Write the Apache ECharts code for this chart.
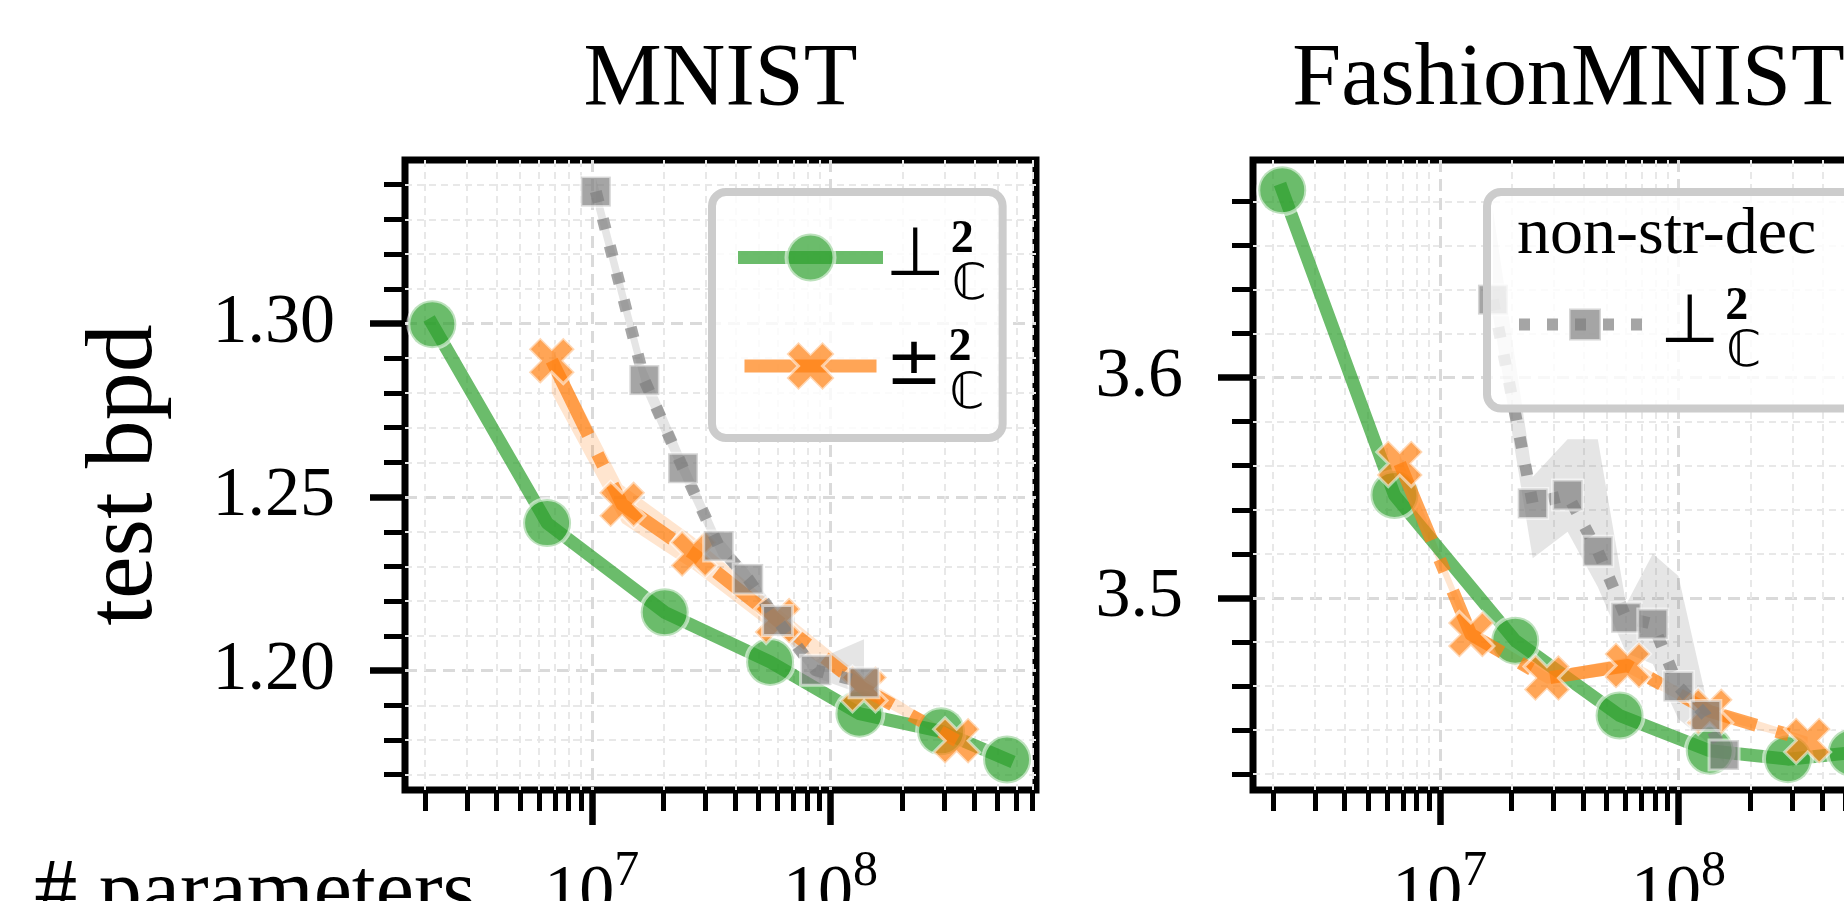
<!DOCTYPE html>
<html><head><meta charset="utf-8">
<script src="https://cdn.jsdelivr.net/npm/echarts@6/dist/echarts.min.js"></script>
<style>html,body{margin:0;padding:0;background:#fff}#c{width:1844px;height:901px}</style>
</head><body><div id="c"></div>
<script>
// ---------------- data ----------------
const panelTitles = ['MNIST', 'FashionMNIST'];
const seriesNames = ['⊥²ℂ', '±²ℂ', 'non-str-dec ⊥²ℂ'];

const xMajorTicks = [1e7, 1e8];
const xMinorTicks = [2e6, 3e6, 4e6, 5e6, 6e6, 7e6, 8e6, 9e6, 2e7, 3e7, 4e7, 5e7, 6e7, 7e7, 8e7, 9e7, 2e8, 3e8, 4e8, 5e8, 6e8, 7e8];

const mnistYMajor = [1.20, 1.25, 1.30];
const mnistYMinor = [1.17, 1.18, 1.19, 1.21, 1.22, 1.23, 1.24, 1.26, 1.27, 1.28, 1.29, 1.31, 1.32, 1.33, 1.34];
const fmnistYMajor = [3.5, 3.6];
const fmnistYMinor = [3.42, 3.44, 3.46, 3.48, 3.52, 3.54, 3.56, 3.58, 3.62, 3.64, 3.66, 3.68];

// MNIST
const mnistPerpParams = [2.15e6, 6.5e6, 2.02e7, 5.58e7, 1.32e8, 2.9e8, 5.48e8];
const mnistPerpBpd    = [1.2998, 1.2425, 1.2168, 1.2025, 1.1876, 1.1825, 1.1744];
const mnistPmParams   = [6.8e6, 1.34e7, 2.67e7, 6.0e7, 1.38e8, 3.37e8];
const mnistPmBpd      = [1.2893, 1.2479, 1.2336, 1.2144, 1.1947, 1.1798];
const mnistPmLow      = [1.2800, 1.2425, 1.2290, 1.2105, 1.1930, 1.1788];
const mnistPmHigh     = [1.2930, 1.2535, 1.2385, 1.2180, 1.1978, 1.1810];
const mnistNsdParams  = [1.04e7, 1.66e7, 2.41e7, 3.4e7, 4.52e7, 6.0e7, 8.65e7, 1.38e8];
const mnistNsdBpd     = [1.3380, 1.2837, 1.2583, 1.2359, 1.2264, 1.2144, 1.2001, 1.1965];
const mnistNsdLow     = [1.3330, 1.2800, 1.2550, 1.2330, 1.2240, 1.2120, 1.1980, 1.1930];
const mnistNsdHigh    = [1.3420, 1.2880, 1.2620, 1.2390, 1.2290, 1.2170, 1.2030, 1.2090];

// FashionMNIST
const fmnistPerpParams = [2.19e6, 6.46e6, 2.07e7, 5.66e7, 1.35e8, 2.87e8, 5.3e8];
const fmnistPerpBpd    = [3.6851, 3.5467, 3.4806, 3.4466, 3.4306, 3.4268, 3.4297];
const fmnistPmParams   = [6.8e6, 1.35e7, 2.81e7, 6.11e7, 1.35e8, 3.47e8];
const fmnistPmBpd      = [3.5610, 3.4834, 3.4636, 3.4693, 3.4485, 3.4353];
const fmnistPmLow      = [3.5570, 3.4800, 3.4610, 3.4660, 3.4460, 3.4340];
const fmnistPmHigh     = [3.5650, 3.4870, 3.4660, 3.4730, 3.4510, 3.4370];
const fmnistNsdParams  = [1.67e7, 2.45e7, 3.43e7, 4.59e7, 6.03e7, 7.8e7, 9.98e7, 1.30e8, 1.55e8];
const fmnistNsdBpd     = [3.6354, 3.5429, 3.5467, 3.5212, 3.4910, 3.4882, 3.4598, 3.4466, 3.4287];
const fmnistNsdLow     = [3.6280, 3.5180, 3.5300, 3.5050, 3.4750, 3.4700, 3.4450, 3.4350, 3.4250];
const fmnistNsdHigh    = [3.6760, 3.5550, 3.5720, 3.5720, 3.4970, 3.5200, 3.5100, 3.4550, 3.4330];

// ---------------- styling ----------------
const FONT = '"Liberation Serif", "DejaVu Serif", serif';
const SYM = '"DejaVu Sans", "Noto Sans", sans-serif';
const GREEN = '#2ca02c', ORANGE = '#ff7f0e', GRAY = '#7f7f7f';
const X_PATH = 'path://M2.5,0 L5,2.5 L7.5,0 L10,2.5 L7.5,5 L10,7.5 L7.5,10 L5,7.5 L2.5,10 L0,7.5 L2.5,5 L0,2.5 Z';

const GRID_W = 631, GRID_H = 630, GRID_TOP = 160;
const gridLefts = [405, 1253];
const xLogMin = 6.218, xLogMax = 8.86;
const yRanges = [[1.1656, 1.3471], [3.4128, 3.6988]];
const yMajors = [mnistYMajor, fmnistYMajor];
const yMinors = [mnistYMinor, fmnistYMinor];
const yDigits = [2, 1];

const lg = v => Math.log10(v);
const majorGrid = {show: true, lineStyle: {color: '#dadada', width: 3, type: [12, 7]}};
const minorGrid = {show: true, lineStyle: {color: '#e8e8e8', width: 2, type: [7, 5]}};

const xAxes = [], yAxes = [], grids = [];
for (let g = 0; g < 2; g++) {
  grids.push({left: gridLefts[g], top: GRID_TOP, width: GRID_W, height: GRID_H,
    outerBoundsMode: 'none', containLabel: false,
    show: true, borderColor: '#000', borderWidth: 7, backgroundColor: 'transparent'});
  xAxes.push({
    type: 'value', gridIndex: g, position: 'bottom', min: xLogMin, max: xLogMax,
    axisLine: {show: false, onZero: false},
    axisTick: {show: true, customValues: xMajorTicks.map(lg), length: 35, lineStyle: {color: '#000', width: 6.5}},
    axisLabel: {show: true, customValues: xMajorTicks.map(lg), margin: 57,
      formatter: v => '{b|10}{s|' + Math.round(v) + '}',
      rich: {
        b: {fontFamily: FONT, fontSize: 70, lineHeight: 83, verticalAlign: 'bottom', color: '#000'},
        s: {fontFamily: FONT, fontSize: 50, lineHeight: 50, verticalAlign: 'top', color: '#000'}
      }},
    splitLine: majorGrid
  });
  xAxes.push({
    type: 'value', gridIndex: g, position: 'bottom', offset: 0, min: xLogMin, max: xLogMax,
    axisLine: {show: false, onZero: false},
    axisTick: {show: true, customValues: xMinorTicks.map(lg), length: 21, lineStyle: {color: '#000', width: 5}},
    axisLabel: {show: false},
    splitLine: minorGrid
  });
  yAxes.push({
    type: 'value', gridIndex: g, position: 'left', min: yRanges[g][0], max: yRanges[g][1],
    axisLine: {show: false, onZero: false},
    axisTick: {show: true, customValues: yMajors[g], length: 35, lineStyle: {color: '#000', width: 6.5}},
    axisLabel: {show: true, customValues: yMajors[g], margin: 70, color: '#000',
      fontFamily: FONT, fontSize: 70, formatter: v => v.toFixed(yDigits[g])},
    splitLine: majorGrid
  });
  yAxes.push({
    type: 'value', gridIndex: g, position: 'left', offset: 0, min: yRanges[g][0], max: yRanges[g][1],
    axisLine: {show: false, onZero: false},
    axisTick: {show: true, customValues: yMinors[g], length: 21, lineStyle: {color: '#000', width: 5}},
    axisLabel: {show: false},
    splitLine: minorGrid
  });
}

const styles = {
  perp: {symbol: 'circle', symbolSize: 48,
    lineStyle: {color: GREEN, opacity: 0.7, width: 13, type: 'solid', cap: 'square', join: 'round'},
    itemStyle: {color: 'rgba(44,160,44,0.7)', borderColor: 'rgba(255,255,255,0.55)', borderWidth: 4}, z: 3},
  pm: {symbol: X_PATH, symbolSize: 46,
    lineStyle: {color: ORANGE, opacity: 0.7, width: 13, type: [83, 21, 13, 21], cap: 'butt', join: 'round'},
    itemStyle: {color: 'rgba(255,127,14,0.7)', borderColor: 'rgba(255,255,255,0.55)', borderWidth: 3}, z: 4},
  nsd: {symbol: 'rect', symbolSize: 30,
    lineStyle: {color: GRAY, opacity: 0.7, width: 12, type: [11, 17], cap: 'butt', join: 'round'},
    itemStyle: {color: 'rgba(127,127,127,0.7)', borderColor: 'rgba(255,255,255,0.55)', borderWidth: 3}, z: 5}
};

function lineSeries(name, g, key, params, vals) {
  const s = styles[key];
  return {
    type: 'line', name, xAxisIndex: g * 2, yAxisIndex: g * 2,
    data: params.map((p, i) => [lg(p), vals[i]]),
    symbol: s.symbol, symbolSize: s.symbolSize, showAllSymbol: true,
    lineStyle: s.lineStyle, itemStyle: s.itemStyle, z: s.z,
    emphasis: {disabled: true}, animation: false, clip: true
  };
}
function bandSeries(g, params, lo, hi, fill) {
  return {
    type: 'custom', xAxisIndex: g * 2, yAxisIndex: g * 2, z: 2, silent: true, animation: false,
    data: [[lg(params[0]), lo[0]]],
    renderItem: (p, api) => {
      const pts = [];
      for (let i = 0; i < params.length; i++) pts.push(api.coord([lg(params[i]), hi[i]]));
      for (let i = params.length - 1; i >= 0; i--) pts.push(api.coord([lg(params[i]), lo[i]]));
      return {type: 'polygon', shape: {points: pts}, style: {fill: fill}};
    }
  };
}

const series = [
  bandSeries(0, mnistPmParams, mnistPmLow, mnistPmHigh, 'rgba(255,127,14,0.2)'),
  bandSeries(0, mnistNsdParams, mnistNsdLow, mnistNsdHigh, 'rgba(127,127,127,0.2)'),
  bandSeries(1, fmnistPmParams, fmnistPmLow, fmnistPmHigh, 'rgba(255,127,14,0.2)'),
  bandSeries(1, fmnistNsdParams, fmnistNsdLow, fmnistNsdHigh, 'rgba(127,127,127,0.2)'),
  lineSeries(seriesNames[0], 0, 'perp', mnistPerpParams, mnistPerpBpd),
  lineSeries(seriesNames[1], 0, 'pm', mnistPmParams, mnistPmBpd),
  lineSeries(seriesNames[2], 0, 'nsd', mnistNsdParams, mnistNsdBpd),
  lineSeries(seriesNames[0], 1, 'perp', fmnistPerpParams, fmnistPerpBpd),
  lineSeries(seriesNames[1], 1, 'pm', fmnistPmParams, fmnistPmBpd),
  lineSeries(seriesNames[2], 1, 'nsd', fmnistNsdParams, fmnistNsdBpd)
];

const legendRich = {
  m: {fontFamily: SYM, fontSize: 68, lineHeight: 80, padding: [0, 6, 0, 4], color: '#000'},
  sup: {fontFamily: FONT, fontWeight: 'bold', fontSize: 46, height: 45, lineHeight: 45, verticalAlign: 'top', width: 1, color: '#000'},
  sub: {fontFamily: SYM, fontSize: 50, height: 22, lineHeight: 22, verticalAlign: 'bottom', color: '#000'}
};
const legendFmt = name => '{m|' + (name.indexOf('±') === 0 ? '±' : '⊥') + '}{sup|2}{sub|ℂ}';
const legendBox = {backgroundColor: 'rgba(255,255,255,0.8)', borderColor: '#cccccc', borderWidth: 8, borderRadius: 14};
const legendItem = (name, key, lineType) => ({name,
  lineStyle: Object.assign({}, styles[key].lineStyle, lineType ? {type: lineType} : {}),
  itemStyle: Object.assign({}, styles[key].itemStyle)});

const option = {
  animation: false,
  backgroundColor: '#fff',
  title: panelTitles.map((t, g) => ({
    text: t, left: gridLefts[g] + GRID_W / 2, top: 37, textAlign: 'center', padding: 0,
    textStyle: {fontFamily: FONT, fontSize: 88, lineHeight: 88, fontWeight: 'normal', color: '#000'}
  })),
  grid: grids, xAxis: xAxes, yAxis: yAxes, series,
  legend: [
    Object.assign({data: [legendItem(seriesNames[0], 'perp'), legendItem(seriesNames[1], 'pm', 'solid')],
      orient: 'vertical', left: 712, top: 192,
      padding: [25, 16, 18, 26], itemGap: 14, itemWidth: 132, itemHeight: 60, selectedMode: false,
      lineStyle: {width: 13}, formatter: legendFmt, textStyle: {rich: legendRich}, z: 10}, legendBox),
    Object.assign({data: [legendItem(seriesNames[2], 'nsd')], orient: 'vertical', left: 1487, top: 192,
      padding: [92, 130, 30, 26], itemWidth: 132, itemHeight: 40, selectedMode: false,
      lineStyle: {width: 12}, formatter: legendFmt, textStyle: {rich: legendRich}, z: 10}, legendBox)
  ],
  graphic: [
    {type: 'text', x: 1517, y: 236, z: 20, style: {text: 'non-str-dec', fontFamily: FONT, fontSize: 66, fill: '#000', align: 'left', verticalAlign: 'middle'}},
    {type: 'text', x: 476, y: 895, z: 20, style: {text: '# parameters', fontFamily: FONT, fontSize: 86, fill: '#000', align: 'right', verticalAlign: 'middle'}},
    {type: 'text', x: 126, y: 475, rotation: Math.PI / 2, z: 20, style: {text: 'test bpd', fontFamily: FONT, fontSize: 96, fill: '#000', align: 'center', verticalAlign: 'middle'}}
  ]
};

const chart = echarts.init(document.getElementById('c'), null, {renderer: 'canvas', width: 1844, height: 901});
chart.setOption(option);
</script></body></html>
